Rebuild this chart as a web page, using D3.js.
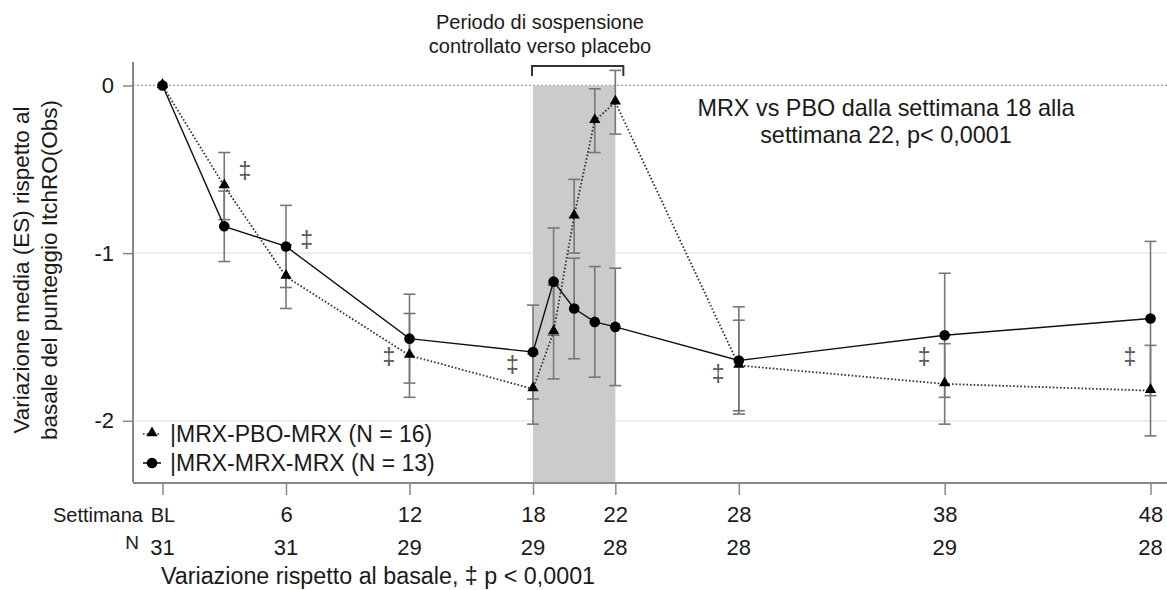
<!DOCTYPE html>
<html>
<head>
<meta charset="utf-8">
<script src="https://cdn.jsdelivr.net/npm/d3@7"></script>
<style>
  body { margin: 0; background: #fff; }
  svg text { font-family: "Liberation Sans", Arial, sans-serif; fill: #1a1a1a; }
</style>
</head>
<body>
<div id="plotRegi"></div>
<script>
// Weeks and values
const weeks = [0, 3, 6, 12, 18, 19, 20, 21, 22, 28, 38, 48]
const pboMean = [0, -0.60, -1.14, -1.61, -1.81, -1.47, -0.78, -0.21, -0.10, -1.67, -1.78, -1.82]
const pboSE = [0, 0.20, 0.19, 0.25, 0.21, 0.28, 0.22, 0.19, 0.19, 0.27, 0.24, 0.27]
const mrxMean = [0, -0.84, -0.96, -1.51, -1.59, -1.17, -1.33, -1.41, -1.44, -1.64, -1.49, -1.39]
const mrxSE = [0, 0.21, 0.245, 0.265, 0.28, 0.32, 0.30, 0.33, 0.35, 0.32, 0.37, 0.46]

// x axis rows
const tickWeeks = [0, 6, 12, 18, 22, 28, 38, 48]
const tickLabels = ["BL", "6", "12", "18", "22", "28", "38", "48"]
const nValues = [31, 31, 29, 29, 28, 28, 29, 28]

// ‡ marks (week, value)
const dagWeeks = [4, 7, 11, 17, 27, 37, 47]
const dagVals = [-0.51, -0.92, -1.62, -1.67, -1.72, -1.62, -1.62]

const yTicks = [0, -1, -2]
const shadeWeeks = [18, 22]
const legendNames = ["|MRX-PBO-MRX (N = 16)", "|MRX-MRX-MRX (N = 13)"]

const W = 1167, H = 590

var x = d3.scaleLinear().domain([0, 48]).range([162.5, 1150.5])
var y = d3.scaleLinear().domain([-2.365, 0.14]).range([482, 62])

var svg = d3.select("#plotRegi").append("svg")
    .attr("width", W).attr("height", H)

// grid lines
svg.append("g").selectAll("line")
    .data(yTicks)
    .enter().append("line")
    .attr("x1", 133).attr("x2", W)
    .attr("y1", d => y(d)).attr("y2", d => y(d))
    .attr("stroke", d => d == 0 ? "#9a9a9a" : "#e4e4e4")
    .attr("stroke-width", 1.2)
    .attr("stroke-dasharray", d => d == 0 ? "2,2" : null)

// shaded withdrawal period
svg.append("rect")
    .attr("x", x(shadeWeeks[0]))
    .attr("y", y(0))
    .attr("width", x(shadeWeeks[1]) - x(shadeWeeks[0]))
    .attr("height", 482 - y(0))
    .attr("fill", "#cbcbcb")

// bracket above the shade
var bx0 = x(shadeWeeks[0]) - 1, bx1 = x(shadeWeeks[1]) + 8
svg.append("path")
    .attr("d", "M" + bx0 + ",76V66H" + bx1 + "V76")
    .attr("fill", "none").attr("stroke", "#333").attr("stroke-width", 2)

svg.append("text").attr("x", 540).attr("y", 29).attr("text-anchor", "middle")
    .style("font-size", "20px").text("Periodo di sospensione")
svg.append("text").attr("x", 540).attr("y", 53).attr("text-anchor", "middle")
    .style("font-size", "20px").text("controllato verso placebo")

// axes
var yAxis = svg.append("g")
    .attr("transform", "translate(133,0)")
    .call(d3.axisLeft(y).tickValues(yTicks).tickSize(10).tickFormat(d => d))
yAxis.select(".domain").attr("d", "M0,62V482").attr("stroke", "#888").attr("stroke-width", 2)
yAxis.selectAll(".tick line").attr("stroke", "#888").attr("stroke-width", 1.5)
yAxis.selectAll(".tick text").attr("x", -19).style("font-size", "22px")
    .style("font-family", "Liberation Sans, Arial, sans-serif").attr("fill", "#1a1a1a")

var xAxis = svg.append("g")
    .attr("transform", "translate(0,483)")
    .call(d3.axisBottom(x).tickValues(tickWeeks).tickSize(12).tickFormat((d, i) => tickLabels[i]))
xAxis.select(".domain").attr("d", "M133,0H" + W).attr("stroke", "#888").attr("stroke-width", 2)
xAxis.selectAll(".tick line").attr("stroke", "#888").attr("stroke-width", 1.5)
xAxis.selectAll(".tick text").attr("y", 39).attr("dy", null)
    .style("font-size", "22px")
    .style("font-family", "Liberation Sans, Arial, sans-serif").attr("fill", "#1a1a1a")
xAxis.selectAll(".tick text").filter((d, i) => i == 0).style("font-size", "20px")

svg.append("text").attr("x", 143).attr("y", 522).attr("text-anchor", "end")
    .style("font-size", "20px").text("Settimana")
svg.append("text").attr("x", 139).attr("y", 549).attr("text-anchor", "end")
    .style("font-size", "19px").text("N")

svg.append("g").selectAll("text")
    .data(nValues)
    .enter().append("text")
    .attr("x", (d, i) => x(tickWeeks[i]))
    .attr("y", 555)
    .attr("text-anchor", "middle")
    .style("font-size", "22px")
    .text(d => d)

svg.append("text").attr("x", 378).attr("y", 584).attr("text-anchor", "middle")
    .style("font-size", "23.3px").text("Variazione rispetto al basale, \u2021 p < 0,0001")

// y axis title
var yt = svg.append("text")
    .attr("transform", "translate(0,270) rotate(-90)")
    .attr("text-anchor", "middle")
    .style("font-size", "22.5px")
yt.append("tspan").attr("x", 0).attr("y", 29).text("Variazione media (ES) rispetto al")
yt.append("tspan").attr("x", 0).attr("y", 57).text("basale del punteggio ItchRO(Obs)")

// annotation
svg.append("text").attr("x", 886).attr("y", 116).attr("text-anchor", "middle")
    .style("font-size", "23.4px").text("MRX vs PBO dalla settimana 18 alla")
svg.append("text").attr("x", 886).attr("y", 143).attr("text-anchor", "middle")
    .style("font-size", "23.4px").text("settimana 22, p< 0,0001")

// error bars
function errorBars(means, ses) {
    var g = svg.append("g").attr("stroke", "#777").attr("stroke-width", 1.6)
    var rows = weeks.map((w, i) => ({ w: w, m: means[i], s: ses[i] })).filter(d => d.s > 0)
    g.selectAll("NONE").data(rows).enter().append("line")
        .attr("x1", d => x(d.w)).attr("x2", d => x(d.w))
        .attr("y1", d => y(d.m + d.s)).attr("y2", d => y(d.m - d.s))
    g.selectAll("NONE").data(rows).enter().append("line")
        .attr("x1", d => x(d.w) - 6).attr("x2", d => x(d.w) + 6)
        .attr("y1", d => y(d.m + d.s)).attr("y2", d => y(d.m + d.s))
    g.selectAll("NONE").data(rows).enter().append("line")
        .attr("x1", d => x(d.w) - 6).attr("x2", d => x(d.w) + 6)
        .attr("y1", d => y(d.m - d.s)).attr("y2", d => y(d.m - d.s))
}
errorBars(mrxMean, mrxSE)
errorBars(pboMean, pboSE)

// lines
var line = d3.line().x(d => x(d[0])).y(d => y(d[1]))
svg.append("path")
    .attr("d", line(weeks.map((w, i) => [w, pboMean[i]])))
    .attr("fill", "none").attr("stroke", "#333").attr("stroke-width", 1.8)
    .attr("stroke-dasharray", "1.6,2")
svg.append("path")
    .attr("d", line(weeks.map((w, i) => [w, mrxMean[i]])))
    .attr("fill", "none").attr("stroke", "#111").attr("stroke-width", 1.4)

// markers
var tri = d3.symbol().type(d3.symbolTriangle).size(55)
svg.append("g").selectAll("path")
    .data(weeks.map((w, i) => [w, pboMean[i]]))
    .enter().append("path")
    .attr("d", tri)
    .attr("transform", d => "translate(" + x(d[0]) + "," + (y(d[1]) - 1) + ")")
    .attr("fill", "#000")
svg.append("g").selectAll("circle")
    .data(weeks.map((w, i) => [w, mrxMean[i]]))
    .enter().append("circle")
    .attr("cx", d => x(d[0])).attr("cy", d => y(d[1]))
    .attr("r", 5.3).attr("fill", "#000")

// ‡ marks
svg.append("g").selectAll("text")
    .data(dagWeeks)
    .enter().append("text")
    .attr("x", d => x(d))
    .attr("y", (d, i) => y(dagVals[i]) + 8)
    .attr("text-anchor", "middle")
    .style("font-size", "23px")
    .style("fill", "#555")
    .text("\u2021")

// legend
var leg = svg.append("g")
leg.selectAll("line").data(legendNames).enter().append("line")
    .attr("x1", 143).attr("x2", 161)
    .attr("y1", (d, i) => 434 + i * 29).attr("y2", (d, i) => 434 + i * 29)
    .attr("stroke", (d, i) => i == 0 ? "#333" : "#111")
    .attr("stroke-width", 1.6)
    .attr("stroke-dasharray", (d, i) => i == 0 ? "1.6,2" : null)
leg.append("path").attr("d", tri).attr("transform", "translate(152,433)").attr("fill", "#000")
leg.append("circle").attr("cx", 152).attr("cy", 463).attr("r", 5.3).attr("fill", "#000")
leg.selectAll("text").data(legendNames).enter().append("text")
    .attr("x", 170).attr("y", (d, i) => 442 + i * 29)
    .style("font-size", "23px")
    .text(d => d)
</script>
</body>
</html>
